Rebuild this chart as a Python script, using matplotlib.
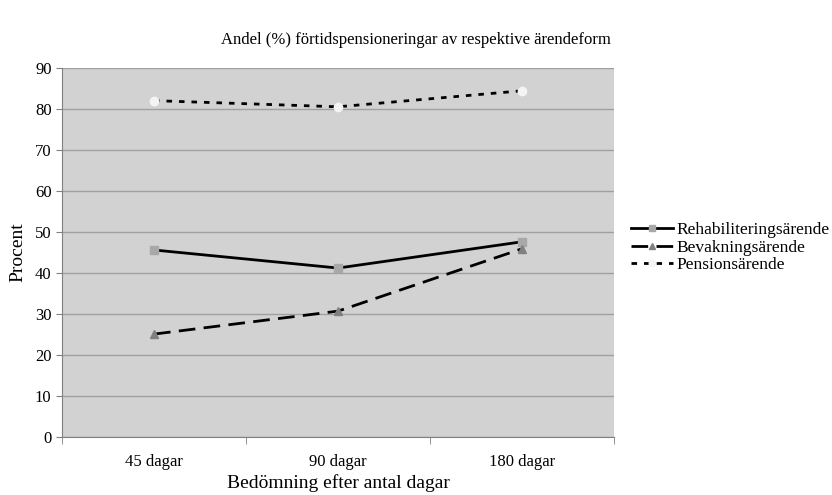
import numpy as np
import matplotlib.pyplot as plt

plt.rcParams['font.family'] = ['Liberation Serif', 'DejaVu Serif']

categories = ['45 dagar', '90 dagar', '180 dagar']
rehab = [45.6, 41.2, 47.6]
bevakning = [25.1, 30.7, 45.9]
pension = [82.0, 80.5, 84.4]

fig = plt.figure(figsize=(8.32, 4.95), dpi=100)
ax = fig.add_axes([0.0745, 0.117, 0.6635, 0.746])
ax.set_facecolor('#d2d2d2')

x = np.arange(len(categories))
ax.plot(x, rehab, color='black', lw=2, marker='s', ms=6,
        mfc='#a8a8a8', mec='#a8a8a8', label='Rehabiliteringsärende')
ax.plot(x, bevakning, color='black', lw=2, ls=(0, (6, 3)), marker='^', ms=6,
        mfc='#808080', mec='#808080', label='Bevakningsärende')
ax.plot(x, pension, color='black', lw=2, ls=(0, (2, 2.5)), marker='o', ms=6,
        mfc='#f4f4f4', mec='#f4f4f4', label='Pensionsärende')

ax.set_xlim(-0.5, 2.5)
ax.set_ylim(0, 90)
ax.set_yticks(np.arange(0, 91, 10))
ax.set_xticks(x)
ax.set_xticklabels(categories, fontsize=12)
ax.set_xticks([-0.5, 0.5, 1.5, 2.5], minor=True)
ax.tick_params(axis='x', which='major', length=0, pad=12)
ax.tick_params(axis='x', which='minor', length=5, color='#808080')
ax.tick_params(axis='y', length=4, color='#808080', labelsize=12)
ax.yaxis.grid(True, color='#a0a0a0', lw=1)
ax.set_axisbelow(True)
for side in ['top', 'right']:
    ax.spines[side].set_visible(False)
for side in ['left', 'bottom']:
    ax.spines[side].set_color('#808080')

ax.set_ylabel('Procent', fontsize=14, labelpad=6)
ax.set_xlabel('Bedömning efter antal dagar', fontsize=14, labelpad=3)
fig.suptitle('Andel (%) förtidspensioneringar av respektive ärendeform',
             fontsize=12, x=0.5, y=0.935)

fig.legend(loc='center left', bbox_to_anchor=(0.759, 0.5), frameon=False,
           fontsize=12.5, handlelength=2.4, labelspacing=0.1, handletextpad=0.2,
           borderaxespad=0, borderpad=0, markerscale=0.8)

fig.savefig('out.png', dpi=100)
